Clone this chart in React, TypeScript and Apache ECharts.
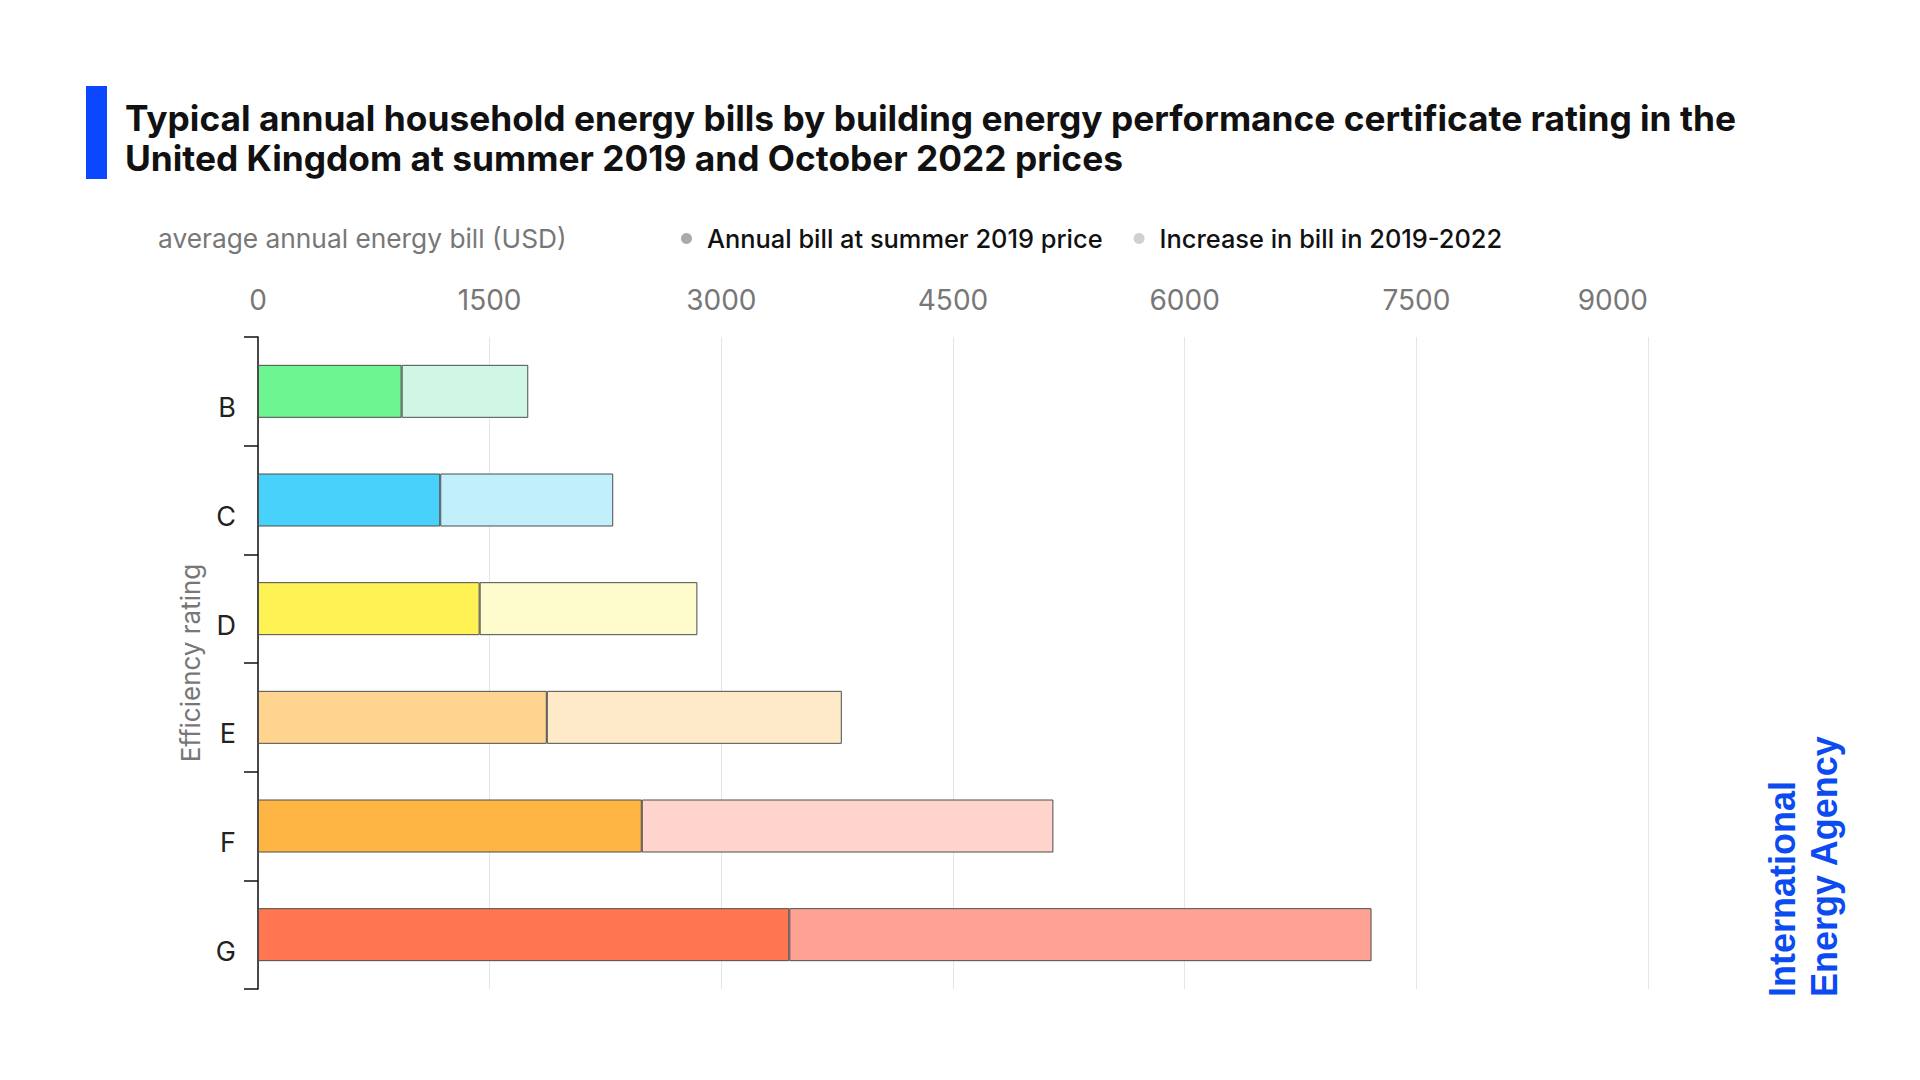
import React, { useEffect, useRef } from 'react';
import * as echarts from 'echarts';

const categories = ['B', 'C', 'D', 'E', 'F', 'G'];
const bill2019 = [930, 1180, 1435, 1870, 2485, 3440];
const increase = [820, 1120, 1410, 1910, 2665, 3770];
const baseColors = ['#6cf590', '#48d1fb', '#fef254', '#fed48f', '#feb543', '#ff7650'];
const incColors = ['#cff7e3', '#c2effc', '#fefccd', '#feeac9', '#fed4cc', '#fea394'];
const seriesNames = ['Annual bill at summer 2019 price', 'Increase in bill in 2019-2022'];
const legendColors = ['#aaaaaa', '#d0d0d0'];
const titleLines = [
  'Typical annual household energy bills by building energy performance certificate rating in the',
  'United Kingdom at summer 2019 and October 2022 prices',
];
const xMin = 0;
const xMax = 9000;
const xInterval = 1500;

const FONT = 'Inter, Roboto, "Noto Sans", sans-serif';

export default function App() {
  const ref = useRef<HTMLDivElement>(null);
  useEffect(() => {
    document.body.style.margin = '0';
    const chart = echarts.init(ref.current!, null, { renderer: 'svg' });
    chart.setOption({
      animation: false,
      backgroundColor: '#ffffff',
      title: [
        {
          text: titleLines.join('\n'),
          left: 125,
          top: 98,
          padding: 0,
          textStyle: { fontSize: 35.3, fontWeight: 'bold', color: '#111111', lineHeight: 40, fontFamily: FONT },
        },
      ],
      legend: {
        left: 676,
        top: 221,
        icon: 'circle',
        itemWidth: 11,
        itemHeight: 11,
        itemGap: 31,
        selectedMode: false,
        itemStyle: { borderWidth: 0 },
        textStyle: { fontSize: 25.4, fontWeight: 500, color: '#111111', fontFamily: FONT, padding: [0, 0, 0, 10] },
        data: seriesNames,
      },
      grid: { left: 258, right: 272, top: 337, bottom: 91, containLabel: false },
      xAxis: {
        type: 'value',
        position: 'top',
        min: xMin,
        max: xMax,
        interval: xInterval,
        axisLine: { show: false },
        axisTick: { show: false },
        axisLabel: {
          fontSize: 28,
          color: '#777777',
          fontFamily: FONT,
          margin: 23,
          alignMaxLabel: 'right',
          formatter: (v: number) => String(v),
        },
        splitLine: { show: true, lineStyle: { color: '#e6e6e6', width: 1 } },
      },
      yAxis: {
        type: 'category',
        inverse: true,
        data: categories,
        name: 'Efficiency rating',
        nameLocation: 'middle',
        nameRotate: 90,
        nameGap: 55,
        nameTextStyle: { fontSize: 26, color: '#777777', fontFamily: FONT },
        axisLine: { show: true, lineStyle: { color: '#111111', width: 1.5 } },
        axisTick: { show: true, length: 14, lineStyle: { color: '#111111', width: 1.5 } },
        axisLabel: {
          fontSize: 27,
          color: '#222222',
          fontFamily: FONT,
          margin: 22,
          verticalAlign: 'top',
          padding: [3, 0, 0, 0],
        },
        splitLine: { show: false },
      },
      series: [
        {
          name: seriesNames[0],
          type: 'bar',
          stack: 'total',
          barWidth: 53,
          itemStyle: { color: legendColors[0] },
          data: bill2019.map((v, i) => ({
            value: v,
            itemStyle: { color: baseColors[i], borderColor: '#4d4d4d', borderWidth: 1 },
          })),
        },
        {
          name: seriesNames[1],
          type: 'bar',
          stack: 'total',
          barWidth: 53,
          itemStyle: { color: legendColors[1] },
          data: increase.map((v, i) => ({
            value: v,
            itemStyle: { color: incColors[i], borderColor: '#4d4d4d', borderWidth: 1 },
          })),
        },
      ],
      graphic: [
        {
          type: 'rect',
          shape: { x: 86, y: 86, width: 21, height: 93 },
          style: { fill: '#0a47ff' },
        },
        {
          type: 'text',
          x: 158,
          y: 238,
          style: {
            text: 'average annual energy bill (USD)',
            fill: '#777777',
            font: `400 26.3px ${FONT}`,
            textAlign: 'left',
            textVerticalAlign: 'middle',
            align: 'left',
            verticalAlign: 'middle',
          },
        },
        {
          type: 'text',
          x: 1845,
          y: 997,
          rotation: Math.PI / 2,
          style: {
            text: 'International\nEnergy Agency',
            fill: '#0b4bf0',
            font: 'bold 36px "Liberation Sans", Arial, sans-serif',
            lineHeight: 42,
            textAlign: 'left',
            textVerticalAlign: 'bottom',
            align: 'left',
            verticalAlign: 'bottom',
          },
        },
      ],
    });
    return () => chart.dispose();
  }, []);
  return <div ref={ref} style={{ width: 1920, height: 1080, background: '#ffffff' }} />;
}
